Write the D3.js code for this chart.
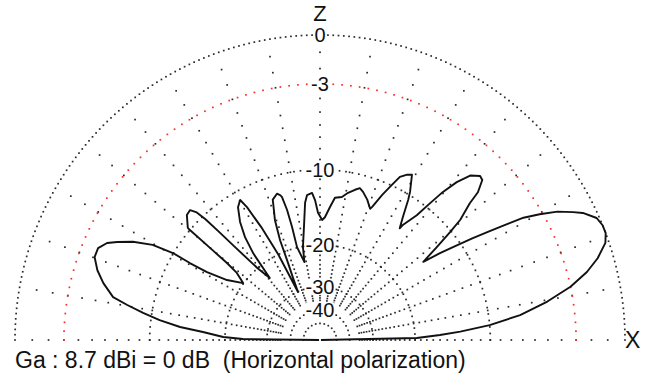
<!DOCTYPE html>
<html><head><meta charset="utf-8">
<script src="https://cdn.jsdelivr.net/npm/d3@7"></script>
<style>body{margin:0;background:#fff;} svg{display:block} text{white-space:pre}</style>
</head><body>
<svg id="c" width="646" height="376"></svg>
<script>
// ---- data ----
const ringLevels = [0, -3, -10, -20, -30, -40, -50];
const ringLabels = ["0", "-3", "-10", "-20", "-30", "-40", ""];
const spokeAngles = [0, 10, 20, 30, 40, 50, 60, 70, 80, 90, 100, 110, 120, 130, 140, 150, 160, 170, 180];
const axisLabels = ["Z", "X"];
const caption = "Ga : 8.7 dBi = 0 dB  (Horizontal polarization)";
// elevation angle (deg, from +X) and relative gain (dB) along the pattern trace
const patternAngle = [0, 1.2, 2.4, 3.4, 5.0, 7.1, 9.6, 12.0, 14.3, 16.4, 18.8, 20.5, 22.1, 23.8, 25.8, 26.8, 28.4, 29.8, 31.0, 31.8, 32.7, 33.7, 34.7, 35.9, 37.1,
  38.5, 39.7, 40.6, 42.4, 43.1, 44.6, 45.7, 47.6, 49.1, 50.3, 51.2, 52.2, 54.2, 54.5,
  56.0, 57.8, 58.7, 60.9, 62.2, 63.9, 65.1, 66.8, 68.6, 69.1,
  71.4, 73.8, 75.3, 76.9, 79.2, 81.3, 84.0, 85.7, 87.7, 89.0, 90.9, 92.0, 93.1, 95.1, 96.2, 98.1, 100.4, 101.3,
  103.9, 103.9, 104.2, 104.9, 105.4, 106.4, 108.6, 110.6, 111.8, 112.4, 113.5, 114.6,
  116.0, 117.5, 118.8, 119.7, 121.7, 124.1, 126.1, 127.6, 129.0,
  131.0, 132.5, 133.0, 133.5, 134.0, 135.0, 136.8, 139.7, 139.8, 140.1, 140.4, 141.1, 143.5,
  147.2, 149.0, 149.4, 149.4, 150.4, 152.3, 154.2, 155.5, 157.5, 159.8, 162.6, 165.3, 168.3, 169.7, 171.3, 172.9, 174.7, 176.1, 178.2, 179.3, 180];
const patternGain = [-99, -19.7, -16.0, -13.3, -10.0, -7.1, -4.8, -3.0, -1.75, -0.9, -0.2, 0, 0, -0.15, -0.75, -1.25, -2.1, -3.2, -4.3, -5.6, -7.1, -8.7, -10.4, -12.4, -14.7,
  -12.3, -10.1, -8.6, -7.0, -5.9, -5.0, -4.9, -5.4, -6.5, -7.9, -9.5, -11.3, -13.1, -13.7,
  -12.4, -10.5, -9.7, -8.2, -8.4, -8.9, -9.9, -11.3, -13.0, -13.3,
  -12.4, -11.7, -11.4, -11.7, -12.2, -12.8, -13.0, -14.2, -15.6, -16.0, -15.0, -13.4, -12.5, -12.7, -13.6, -16.9, -20.1, -23.1,
  -19.9, -16.5, -14.1, -12.4, -12.15, -11.9, -12.4, -14.9, -17.9, -21.6, -25.9, -30.1,
  -20.0, -15.0, -12.0, -10.95, -11.5, -13.05, -15.0, -17.6, -23.0,
  -20.0, -15.0, -12.5, -10.4, -9.3, -8.7, -8.8, -9.7, -10.0, -13.4, -15.9, -18.0, -19.9,
  -17.4, -14.4, -12.1, -9.95, -7.9, -6.3, -5.2, -4.55, -4.1, -4.1, -4.6, -5.3, -6.3, -7.6, -9.15, -10.9, -13.3, -16.4, -19.7, -23.6, -99];

// ---- layout ----
const cx = 320, cy = 340, R = 305;
const FONT = "Liberation Sans, Arial, sans-serif";
const svg = d3.select("#c");
// ARRL-style log scale: r = R * 0.89^(-dB/2)  ==  R * (power ratio)^k
const k = -5 * Math.log10(0.89);
const rPow = d3.scalePow().exponent(k).domain([0, 1]).range([0, R]);
const rScale = dB => rPow(Math.pow(10, dB / 10));
const aScale = d3.scaleLinear().domain([0, 180]).range([0, Math.PI]);
const px = (a, dB) => cx + rScale(dB) * Math.cos(aScale(a));
const py = (a, dB) => cy - rScale(dB) * Math.sin(aScale(a));

const gGrid = svg.append("g");
// spokes: dots at every integer dB
const spokeLevels = d3.range(-1, -36, -1);
spokeAngles.forEach(a => {
  gGrid.selectAll(null).data(spokeLevels).enter().append("rect")
    .attr("x", d => px(a, d) - 0.85).attr("y", d => py(a, d) - 0.85)
    .attr("width", 1.7).attr("height", 1.7).attr("fill", "#2a2a2a");
});
// rings: dots at fixed spacing
const ringStepPx = {"0": 5.3, "-3": 8.8, "-10": 6.5, "-20": 6, "-30": 5.5, "-40": 5, "-50": 4.2};
ringLevels.forEach(lv => {
  const r = rScale(lv);
  const n = Math.round(Math.PI * r / ringStepPx[lv]);
  const pts = d3.range(0, n + 1).map(i => i * 180 / n);
  gGrid.selectAll(null).data(pts).enter().append("rect")
    .attr("x", a => px(a, lv) - 0.85).attr("y", a => py(a, lv) - 0.85)
    .attr("width", 1.7).attr("height", 1.7)
    .attr("fill", lv === -3 ? "#ff2a2a" : "#2a2a2a");
});

// ring labels with opaque background
const gLab = svg.append("g");
ringLevels.forEach((lv, i) => {
  if (!ringLabels[i]) return;
  const t = gLab.append("text").attr("x", cx).attr("y", py(90, lv) + 7)
    .attr("text-anchor", "middle")
    .attr("font-family", FONT).attr("font-size", 20)
    .attr("fill", "#111").text(ringLabels[i]);
  const b = t.node().getBBox();
  gLab.insert("rect", "text").attr("x", b.x).attr("y", b.y + 3).attr("width", b.width).attr("height", b.height - 6).attr("fill", "#fff");
});

// pattern
const line = d3.line().x((d, i) => px(patternAngle[i], patternGain[i])).y((d, i) => py(patternAngle[i], patternGain[i]));
svg.append("path").datum(patternAngle).attr("d", line)
  .attr("fill", "none").attr("stroke", "#111").attr("stroke-width", 1.9).attr("stroke-linejoin", "round");

// axis labels
svg.append("text").attr("x", cx).attr("y", 21).attr("text-anchor", "middle")
  .attr("font-family", FONT).attr("font-size", 22).attr("fill", "#111").text(axisLabels[0]);
svg.append("text").attr("x", 625).attr("y", 348)
  .attr("font-family", FONT).attr("font-size", 23).attr("fill", "#111").text(axisLabels[1]);
svg.append("text").attr("x", 15).attr("y", 368)
  .attr("font-family", FONT).attr("font-size", 23).attr("fill", "#111").text(caption);
</script>
</body></html>
